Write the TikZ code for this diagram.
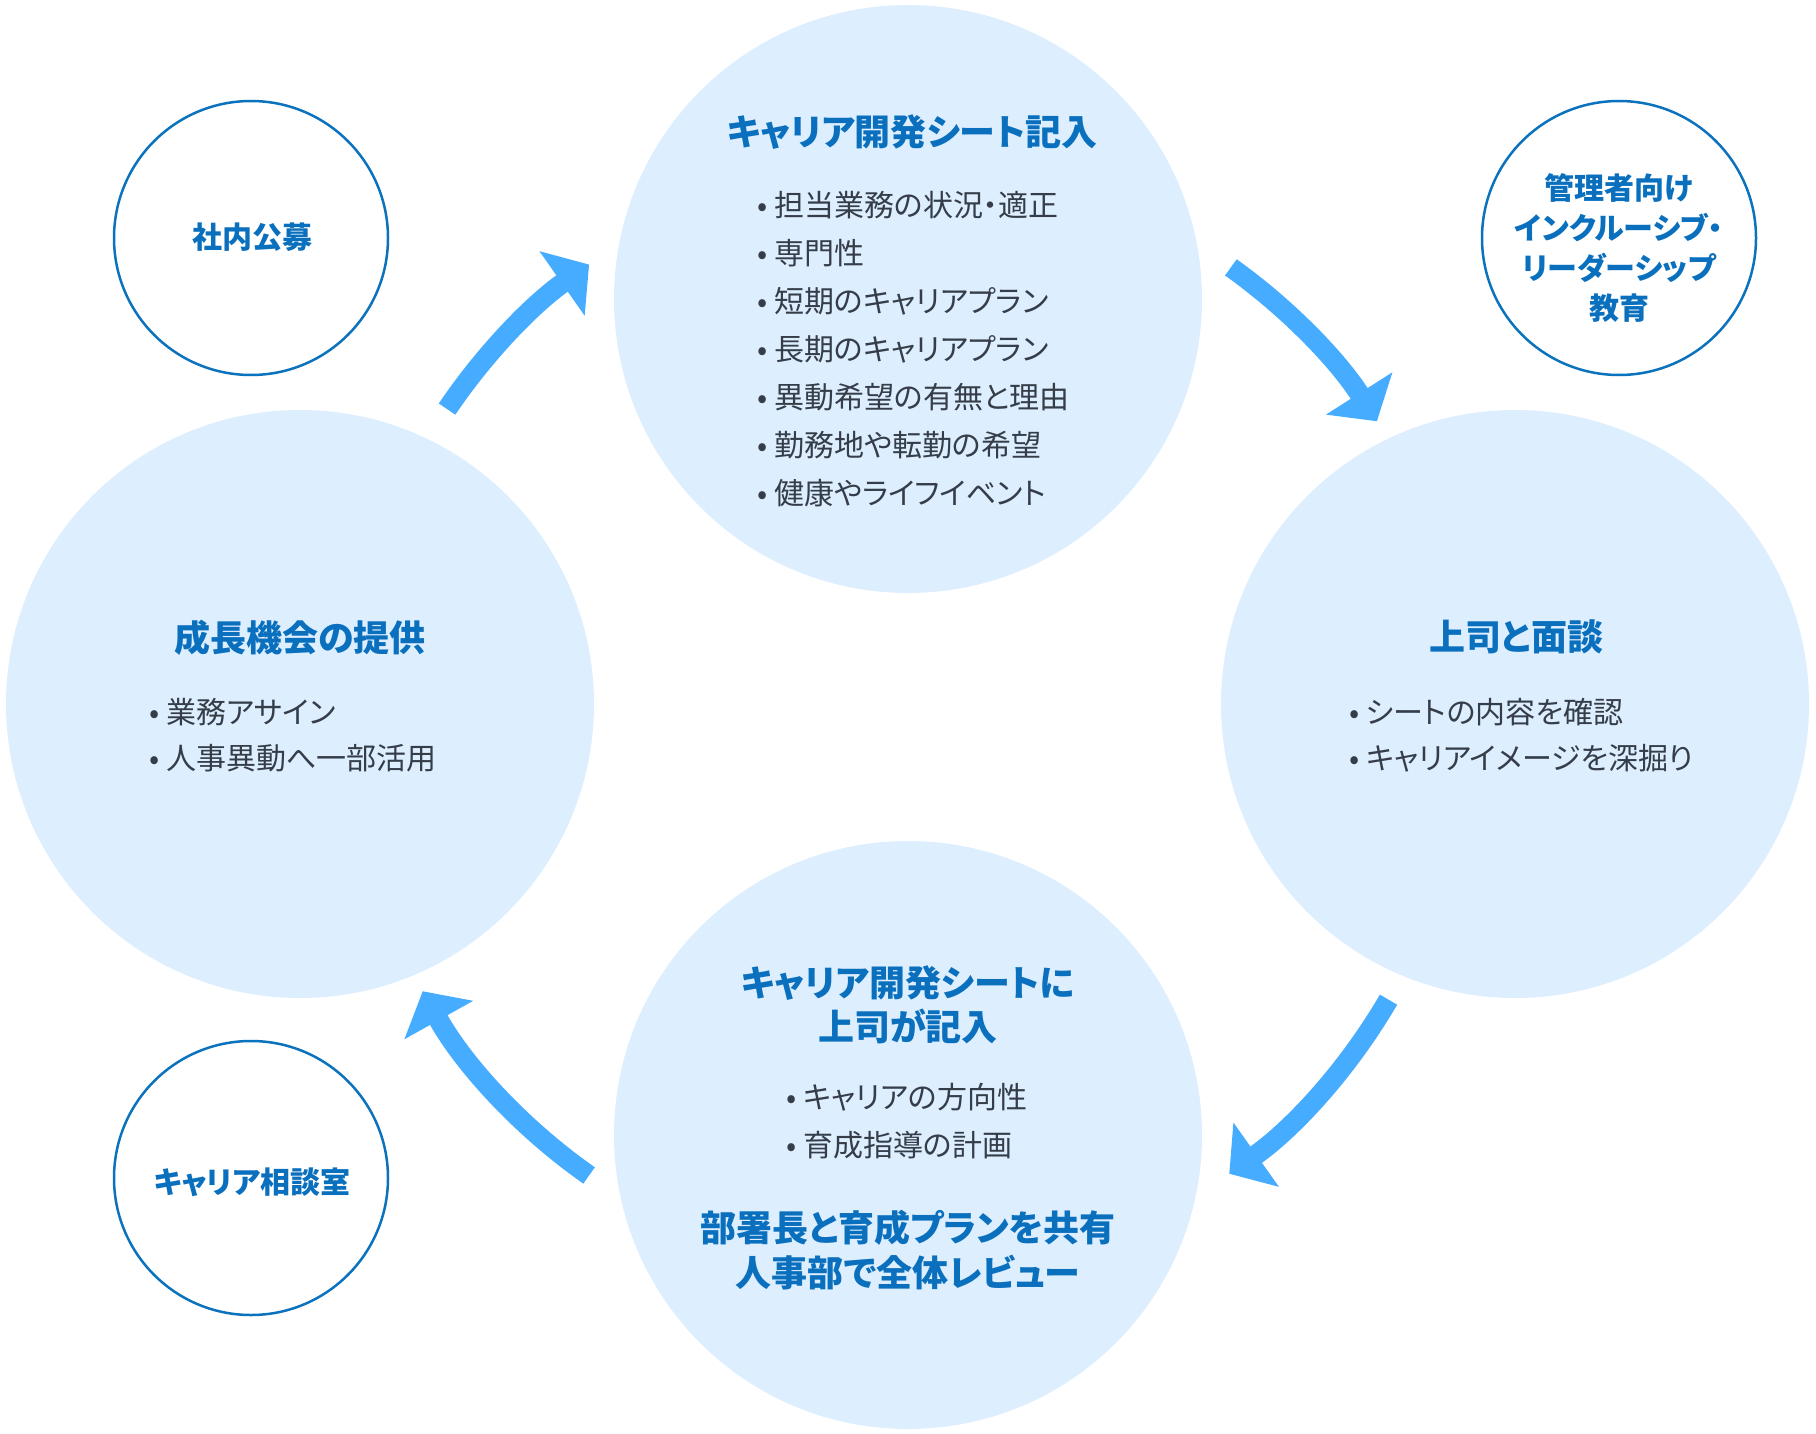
\documentclass[tikz,border=0pt]{standalone}
\usepackage{fontspec}
\setmainfont{Noto Sans CJK JP}[RawFeature=+palt]
\usetikzlibrary{arrows.meta}
\definecolor{circlefill}{HTML}{DDEEFF}
\definecolor{titleblue}{HTML}{0A70BE}
\definecolor{ringblue}{HTML}{0B72BD}
\definecolor{arrowblue}{HTML}{46ACFF}
\definecolor{bodytext}{HTML}{353D48}
\tikzset{
bigstep/.style={circle, fill=circlefill, minimum size=588pt, inner sep=0pt}, % the four big steps of the cycle
sidestep/.style={circle, draw=ringblue, line width=2.5pt, fill=white, minimum size=274pt, inner sep=0pt}, % small support circles
title/.style={text=titleblue, font=\fontsize{36}{44}\selectfont\bfseries, align=center, inner sep=0pt},
sidetitle/.style={text=titleblue, font=\fontsize{30}{40}\selectfont\bfseries, align=center, inner sep=0pt},
items/.style={text=bodytext, font=\fontsize{30}{48}\selectfont, align=left, anchor=west, inner sep=0pt}, % bullet lists
cyclearrow/.style={draw=arrowblue, line width=20pt, -{Triangle[width=77pt, length=33pt]}}, % thick arrows between steps
}
\begin{document}
\begin{tikzpicture}[x=1pt, y=-1pt]
        \useasboundingbox (0,0) rectangle (1816,1434);

        % big circles
        \node[bigstep] (sheet) at (908,299) {};
        \node[bigstep] (talk) at (1515,704) {};
        \node[bigstep] (review) at (908,1135) {};
        \node[bigstep] (growth) at (300,704) {};

        % small circles
        \node[sidestep] (koubo) at (251,238) {};
        \node[sidestep] (mgmt) at (1619,238) {};
        \node[sidestep] (soudan) at (251,1178) {};

        % texts
        \node[title] (sheettitle) at (912,132) {キャリア開発シート記入};
        \node[items] (sheetitems) at (757,349) {• 担当業務の状況・適正\\• 専門性\\• 短期のキャリアプラン\\• 長期のキャリアプラン\\• 異動希望の有無と理由\\• 勤務地や転勤の希望\\• 健康やライフイベント};

        \node[title] (talktitle) at (1516,637) {上司と面談};
        \node[items, font=\fontsize{30}{46}\selectfont] (talkitems) at (1349,735) {• シートの内容を確認\\• キャリアイメージを深掘り};

        \node[title] (reviewtitle) at (908,1005) {キャリア開発シートに\\上司が記入};
        \node[items] (reviewitems) at (786,1121) {• キャリアの方向性\\• 育成指導の計画};
        \node[title, font=\fontsize{36}{45}\selectfont\bfseries] (reviewshare) at (908,1250) {部署長と育成プランを共有\\人事部で全体レビュー};

        \node[title] (growthtitle) at (300,638) {成長機会の提供};
        \node[items, font=\fontsize{30}{46}\selectfont] (growthitems) at (149,735) {• 業務アサイン\\• 人事異動へ一部活用};

        \node[sidetitle] (kouboText) at (252,237) {社内公募};
        \node[sidetitle] (mgmtText) at (1619,248) {管理者向け\\インクルーシブ・\\リーダーシップ\\教育};
        \node[sidetitle] (soudanText) at (252,1182) {キャリア相談室};

        % arrows round the centre of the cycle
        \coordinate (cycle) at (908,720);
        \draw[cyclearrow] (cycle) ++(-146:556) arc[start angle=-146, end angle=-125, radius=556];
        \draw[cyclearrow] (cycle) ++(-54.5:556) arc[start angle=-54.5, end angle=-32.5, radius=556];
        \draw[cyclearrow] (cycle) ++(30.2:556) arc[start angle=30.2, end angle=54.7, radius=556];
        \draw[cyclearrow] (cycle) ++(125:556) arc[start angle=125, end angle=150.8, radius=556];
    \end{tikzpicture}
\end{document}
